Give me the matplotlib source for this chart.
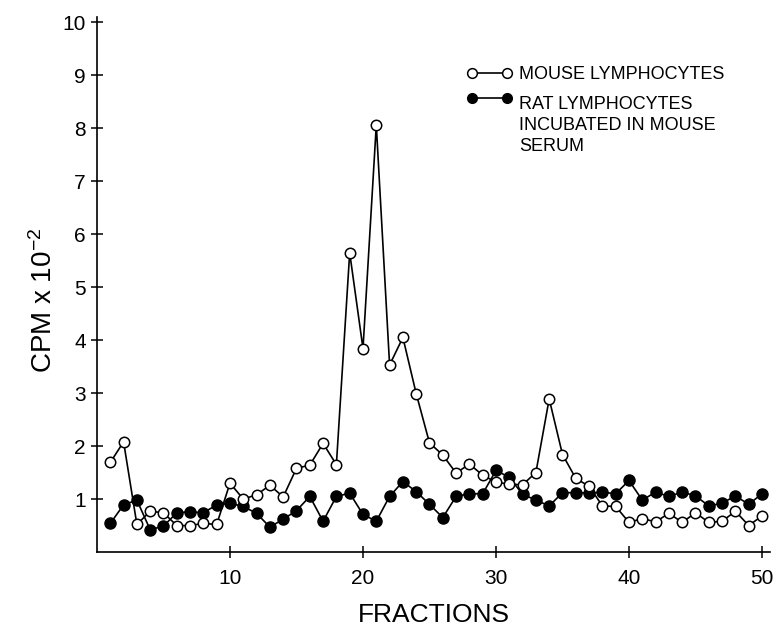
import numpy as np
import matplotlib
matplotlib.use("Agg")
import matplotlib.pyplot as plt
from matplotlib.legend_handler import HandlerLine2D

plt.rcParams['font.family'] = ['Liberation Sans', 'DejaVu Sans']
plt.rcParams['mathtext.fontset'] = 'custom'
plt.rcParams['mathtext.rm'] = 'Liberation Sans'
plt.rcParams['mathtext.it'] = 'Liberation Sans'

fractions = np.arange(1, 51)
mouse = [1.69, 2.08, 0.52, 0.77, 0.74, 0.50, 0.50, 0.54, 0.52, 1.30,
         1.00, 1.08, 1.26, 1.04, 1.58, 1.64, 2.05, 1.65, 5.65, 3.84,
         8.06, 3.53, 4.05, 2.99, 2.06, 1.83, 1.49, 1.66, 1.45, 1.32,
         1.28, 1.27, 1.50, 2.89, 1.84, 1.39, 1.24, 0.87, 0.86, 0.56,
         0.63, 0.57, 0.73, 0.56, 0.74, 0.56, 0.58, 0.77, 0.50, 0.68]
rat = [0.54, 0.89, 0.98, 0.42, 0.49, 0.74, 0.76, 0.74, 0.89, 0.92,
       0.86, 0.73, 0.47, 0.62, 0.78, 1.05, 0.58, 1.05, 1.11, 0.71,
       0.58, 1.05, 1.33, 1.14, 0.90, 0.65, 1.05, 1.10, 1.10, 1.54,
       1.41, 1.09, 0.98, 0.87, 1.12, 1.12, 1.11, 1.13, 1.10, 1.35,
       0.98, 1.13, 1.05, 1.13, 1.06, 0.87, 0.92, 1.06, 0.90, 1.10]
mouse_label = "MOUSE LYMPHOCYTES"
rat_label = "RAT LYMPHOCYTES\nINCUBATED IN MOUSE\nSERUM"


class TopHandler(HandlerLine2D):
    # put the key next to the first line of a multi-line label
    def create_artists(self, legend, orig_handle, xdescent, ydescent,
                       width, height, fontsize, trans):
        arts = super().create_artists(legend, orig_handle, xdescent, ydescent,
                                      width, height, fontsize, trans)
        nlines = legend_lines.get(orig_handle, 1)
        for a in arts:
            a.set_ydata(np.asarray(a.get_ydata()) + (nlines - 1) * 0.6 * 1.3 * fontsize)
        return arts


fig = plt.figure(figsize=(7.74, 6.29), dpi=100)
ax = fig.add_axes([0.1253, 0.1224, 0.8695, 0.8506])

l_rat, = ax.plot(fractions, rat, color='black', lw=1.2, marker='o', ms=8,
                 mfc='black', mec='black', label=rat_label, zorder=2)
l_mouse, = ax.plot(fractions, mouse, color='black', lw=1.2, marker='o', ms=7.5,
                   mfc='white', mec='black', mew=1.1, label=mouse_label, zorder=3)
legend_lines = {l_mouse: 1, l_rat: 3}

ax.set_xlim(0, 50.6)
ax.set_ylim(0, 10.1)
ax.set_xticks([10, 20, 30, 40, 50])
ax.set_yticks(range(1, 11))
for s in ['top', 'right']:
    ax.spines[s].set_visible(False)
for s in ['left', 'bottom']:
    ax.spines[s].set_linewidth(1.2)
ax.tick_params(axis='both', direction='inout', length=8, width=1.1, labelsize=15)
ax.tick_params(axis='x', pad=8)
ax.tick_params(axis='y', pad=4)

ax.set_xlabel("FRACTIONS", fontsize=19, labelpad=11)
ax.set_ylabel(r"CPM x 10$^{-2}$", fontsize=20)
ax.yaxis.set_label_coords(-0.058, 0.47)

leg = ax.legend(handles=[l_mouse, l_rat], loc='upper left',
                bbox_to_anchor=(466.6 / 774, 1 - 66 / 629),
                bbox_transform=fig.transFigure, frameon=False, fontsize=13,
                numpoints=2, handlelength=2.54, handletextpad=0.37,
                labelspacing=0.73, borderpad=0, borderaxespad=0,
                handler_map={l_mouse: TopHandler(), l_rat: TopHandler()})
for t in leg.get_texts():
    t.set_linespacing(1.3)
for h in leg.get_lines():
    h.set_markersize(7)

fig.savefig("out.png", dpi=100)
plt.close('all')
